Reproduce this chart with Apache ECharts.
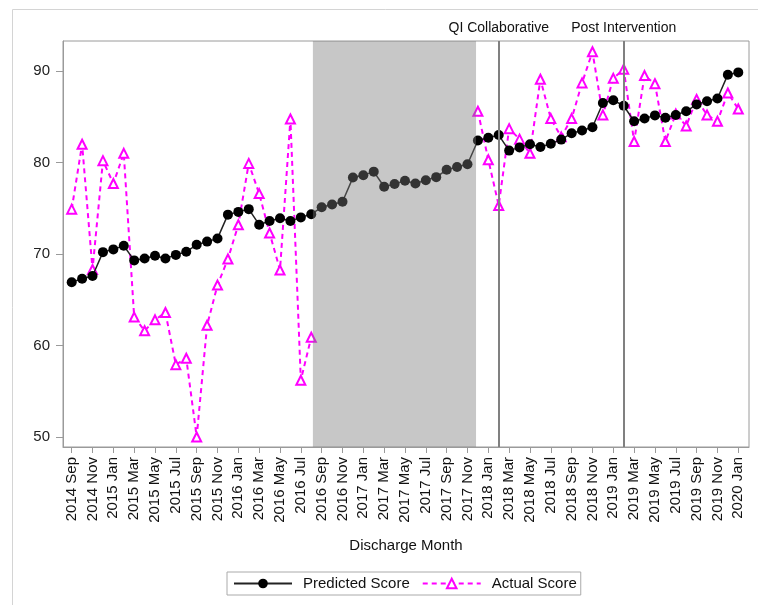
<!DOCTYPE html>
<html>
<head>
<meta charset="utf-8">
<script src="https://cdn.jsdelivr.net/npm/echarts/dist/echarts.min.js"></script>
<style>html,body{margin:0;padding:0;background:#fff}#c{width:758px;height:605px}</style>
</head>
<body>
<div id="c"></div>
<script>
const months = ['2014 Sep','2014 Oct','2014 Nov','2014 Dec',
'2015 Jan','2015 Feb','2015 Mar','2015 Apr','2015 May','2015 Jun','2015 Jul','2015 Aug','2015 Sep','2015 Oct','2015 Nov','2015 Dec',
'2016 Jan','2016 Feb','2016 Mar','2016 Apr','2016 May','2016 Jun','2016 Jul','2016 Aug','2016 Sep','2016 Oct','2016 Nov','2016 Dec',
'2017 Jan','2017 Feb','2017 Mar','2017 Apr','2017 May','2017 Jun','2017 Jul','2017 Aug','2017 Sep','2017 Oct','2017 Nov','2017 Dec',
'2018 Jan','2018 Feb','2018 Mar','2018 Apr','2018 May','2018 Jun','2018 Jul','2018 Aug','2018 Sep','2018 Oct','2018 Nov','2018 Dec',
'2019 Jan','2019 Feb','2019 Mar','2019 Apr','2019 May','2019 Jun','2019 Jul','2019 Aug','2019 Sep','2019 Oct','2019 Nov','2019 Dec',
'2020 Jan'];

const predicted = [66.9, 67.3, 67.6, 70.2, 70.5, 70.9, 69.3, 69.5, 69.8, 69.5, 69.9, 70.25, 71.0, 71.35, 71.7,
74.3, 74.6, 74.9, 73.2, 73.6, 73.9, 73.6, 74.0, 74.35, 75.1, 75.4, 75.7, 78.35, 78.6, 79.0,
77.35, 77.65, 78.0, 77.7, 78.05, 78.4, 79.2, 79.5, 79.8,
82.4, 82.7, 83.0, 81.3, 81.65, 82.0, 81.7, 82.05, 82.5, 83.2, 83.5, 83.85,
86.5, 86.8, 86.2, 84.5, 84.8, 85.15, 84.9, 85.2, 85.6, 86.35, 86.7, 87.0, 89.6, 89.85];

const actual = [74.9, 82.0, 68.3, 80.2, 77.7, 81.0, 63.1, 61.6, 62.8, 63.6, 57.9, 58.6, 50.0, 62.2, 66.6,
69.45, 73.2, 79.9, 76.6, 72.3, 68.25, 84.75, 56.2, 60.9,
null, null, null, null, null, null, null, null, null, null, null, null, null, null, null,
85.6, 80.3, 75.3, 83.7, 82.55, 81.0, 89.1, 84.8, 82.8, 84.8, 88.7, 92.1,
85.2, 89.2, 90.2, 82.3, 89.5, 88.6, 82.3, 85.3, 84.0, 86.9, 85.2, 84.5, 87.6, 85.85];

const yTicks = [50, 60, 70, 80, 90];
const xTicks = months.map((m, i) => i).filter(i => i % 2 === 0);
const grayBand = [23.16, 38.82];
const phaseLines = [{at: 41, name: 'QI Collaborative'}, {at: 53, name: 'Post Intervention'}];

const font = "'Liberation Sans', Arial, sans-serif";
const chart = echarts.init(document.getElementById('c'));
chart.setOption({
  animation: false,
  backgroundColor: '#fff',
  textStyle: {fontFamily: font},
  graphic: [{type: 'rect', left: 10, top: 7, z: -1, shape: {width: 800, height: 700}, style: {fill: 'none', stroke: '#d4d4d4', lineWidth: 1}}],
  grid: {left: 63, top: 41, right: 9, bottom: 158, show: true, borderColor: '#9a9a9a', borderWidth: 1},
  legend: {
    left: 227, top: 572,
    data: ['Predicted Score', 'Actual Score'],
    itemWidth: 58, itemHeight: 12, itemGap: 12,
    padding: [4, 4, 4, 6],
    borderColor: '#aaa', borderWidth: 1,
    textStyle: {fontSize: 15, color: '#111', fontFamily: font, padding: [0, 0, 0, 6]}
  },
  xAxis: {
    type: 'value', min: -0.835, max: 65.03,
    name: 'Discharge Month', nameLocation: 'middle', nameGap: 91,
    nameTextStyle: {fontSize: 15, color: '#111', fontFamily: font},
    splitLine: {show: false},
    axisLine: {show: true, onZero: false, lineStyle: {color: '#9a9a9a'}},
    axisTick: {show: true, length: 6, lineStyle: {color: '#9a9a9a'}, customValues: xTicks},
    axisLabel: {rotate: 90, fontSize: 15, color: '#111', margin: 10, fontFamily: font,
      customValues: xTicks, formatter: v => months[Math.round(v)] || ''}
  },
  yAxis: {
    type: 'value', min: 48.9, max: 93.28,
    splitLine: {show: false},
    axisLine: {show: true, onZero: false, lineStyle: {color: '#9a9a9a'}},
    axisTick: {show: true, length: 7, lineStyle: {color: '#9a9a9a'}, customValues: yTicks},
    axisLabel: {fontSize: 15, color: '#222', margin: 13, fontFamily: font, customValues: yTicks}
  },
  series: [
    {
      name: 'Predicted Score', type: 'line', z: 3,
      data: predicted.map((v, i) => [i, v]),
      symbol: 'circle', symbolSize: 10,
      itemStyle: {color: '#000'},
      lineStyle: {color: '#222', width: 1.5},
      markLine: {
        silent: true, symbol: ['none', 'none'],
        lineStyle: {color: '#808080', width: 2, type: 'solid'},
        label: {position: 'end', fontSize: 14, color: '#111', fontFamily: font, distance: 6},
        data: phaseLines.map(p => ({xAxis: p.at, label: {formatter: p.name}}))
      }
    },
    {
      name: 'Actual Score', type: 'line', z: 2,
      data: actual.map((v, i) => [i, v]),
      connectNulls: false,
      symbol: 'emptyTriangle', symbolSize: 9,
      itemStyle: {color: '#ff00ff', borderWidth: 1.5},
      lineStyle: {color: '#ff00ff', width: 2, type: [5, 4]}
    },
    {
      name: 'band', type: 'custom', z: 10, silent: true,
      data: [grayBand],
      encode: {x: [0, 1]},
      renderItem: function (params, api) {
        const cs = params.coordSys;
        const x1 = api.coord([api.value(0), 60])[0];
        const x2 = api.coord([api.value(1), 60])[0];
        return {type: 'rect', shape: {x: x1, y: cs.y, width: x2 - x1, height: cs.height},
          style: {fill: 'rgba(122,122,122,0.42)'}};
      }
    }
  ]
});
</script>
</body>
</html>
